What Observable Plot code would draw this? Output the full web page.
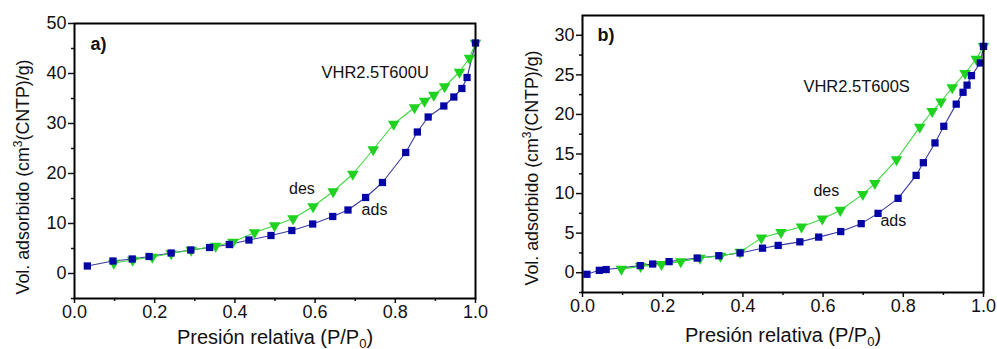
<!DOCTYPE html>
<html>
<head>
<meta charset="utf-8">
<script src="https://cdn.jsdelivr.net/npm/d3@7"></script>
<script src="https://cdn.jsdelivr.net/npm/@observablehq/plot@0.6"></script>
<style>
  html, body { margin: 0; padding: 0; background: #fff; }
  #wrap { position: relative; width: 997px; height: 349px; overflow: hidden; }
  #pa { position: absolute; left: 0; top: 0; }
  #pb { position: absolute; left: 500px; top: 0; }
</style>
</head>
<body>
<div id="wrap"><div id="pa"></div><div id="pb"></div></div>
<script>
// ---------- Panel a) VHR2.5T600U ----------
const aAdsP = [0.032,0.096,0.144,0.186,0.241,0.290,0.337,0.386,0.435,0.490,0.542,0.594,0.644,0.682,0.726,0.768,0.826,0.855,0.882,0.921,0.946,0.966,0.979,1.000];
const aAdsV = [1.5,2.5,2.9,3.4,4.1,4.7,5.2,5.8,6.7,7.6,8.6,9.9,11.4,12.7,15.2,18.2,24.2,28.3,31.3,33.5,35.3,37.0,39.2,46.1];
const aDesP = [0.098,0.145,0.194,0.241,0.291,0.352,0.395,0.449,0.499,0.545,0.595,0.645,0.694,0.745,0.796,0.848,0.873,0.896,0.923,0.960,0.985,1.000];
const aDesV = [2.1,2.7,3.3,4.0,4.7,5.5,6.3,8.2,9.6,11.0,13.4,16.4,19.9,24.8,29.9,33.2,34.5,35.7,37.4,40.3,43.1,46.1];

// ---------- Panel b) VHR2.5T600S ----------
const bAdsP = [0.011,0.042,0.059,0.144,0.175,0.216,0.286,0.340,0.393,0.449,0.488,0.542,0.589,0.644,0.695,0.737,0.787,0.832,0.850,0.879,0.901,0.932,0.949,0.959,0.970,0.992,1.000];
const bAdsV = [-0.2,0.3,0.4,0.9,1.1,1.4,1.85,2.15,2.5,3.1,3.45,3.9,4.5,5.2,6.2,7.5,9.4,12.3,13.9,16.4,18.5,21.3,22.8,23.7,24.9,26.5,28.6];
const bDesP = [0.097,0.145,0.197,0.245,0.293,0.344,0.393,0.446,0.495,0.546,0.598,0.643,0.699,0.729,0.783,0.841,0.872,0.894,0.922,0.954,0.982,1.000];
const bDesV = [0.45,0.8,1.05,1.4,1.85,2.1,2.6,4.4,5.1,5.8,6.8,7.9,9.9,11.3,14.3,18.4,20.4,21.6,23.4,25.2,27.0,28.6];

const xMajor = [0, 0.2, 0.4, 0.6, 0.8, 1.0];
const xMinor = [0.1, 0.3, 0.5, 0.7, 0.9];
const aYMajor = [0, 10, 20, 30, 40, 50];
const aYMinor = [-5, 5, 15, 25, 35, 45];
const bYMajor = [0, 5, 10, 15, 20, 25, 30];
const bYMinor = [-2.5, 2.5, 7.5, 12.5, 17.5, 22.5, 27.5];

const xLabel = "Presión relativa (P/P0)";
const yLabel = "Vol. adsorbido (cm3(CNTP)/g)";

const ADS_FILL = "#0303a6", ADS_LINE = "#3a3aa4";
const DES_FILL = "#1fd21f", DES_LINE = "#3fd83f";
const FONT = "'Liberation Sans', Arial, Helvetica, sans-serif";

function zipPts(P, V) { return P.map((p, i) => ({p, v: V[i]})); }

function panel(o) {
  const ads = zipPts(o.adsP, o.adsV), des = zipPts(o.desP, o.desV);
  const svg = Plot.plot({
    width: o.width, height: 349,
    marginLeft: o.ml, marginRight: o.mr, marginTop: o.mt, marginBottom: o.mb,
    style: {fontFamily: FONT, fontSize: "18px", color: "#111", background: "#fff", overflow: "visible"},
    x: {domain: [0, 1], label: null},
    y: {domain: o.yDomain, label: null},
    marks: [
      Plot.axisX(xMajor, {tickSize: 5, tickPadding: 2, tickFormat: d3.format(".1f"), strokeWidth: 1.5, fontSize: 18, label: null}),
      Plot.axisX(xMinor, {tickSize: 3, tickFormat: () => "", strokeWidth: 1.5, label: null}),
      Plot.axisY(o.yMajor, {tickSize: 6, tickPadding: 2, tickFormat: d3.format("d"), strokeWidth: 1.5, fontSize: 18, label: null}),
      Plot.axisY(o.yMinor, {tickSize: 3, tickFormat: () => "", strokeWidth: 1.5, label: null}),
      Plot.line(ads, {x: "p", y: "v", stroke: ADS_LINE, strokeWidth: 1.1}),
      Plot.line(des, {x: "p", y: "v", stroke: DES_LINE, strokeWidth: 1.1}),
      Plot.dot(des, {x: "p", y: "v", symbol: "triangle", rotate: 180, r: 4.3, fill: DES_FILL, stroke: "none"}),
      Plot.dot(ads, {x: "p", y: "v", symbol: "square", r: 4.1, fill: ADS_FILL, stroke: "none"}),
      Plot.frame({stroke: "#000", strokeWidth: 2}),
      Plot.text([o.tag], {frameAnchor: "top-left", dx: o.tagDx, dy: o.tagDy, text: d => d, fontWeight: "bold", fontSize: 18, textAnchor: "start", fill: "#111"}),
      Plot.text([o.sample], {x: o.sampleX, y: o.sampleY, text: d => d, fontSize: 16.5, textAnchor: "start", fill: "#111"}),
      Plot.text(["des"], {x: o.desX, y: o.desY, text: d => d, fontSize: 16, textAnchor: "start", fill: "#111"}),
      Plot.text(["ads"], {x: o.adsX, y: o.adsY, text: d => d, fontSize: 16, textAnchor: "start", fill: "#111"}),
      Plot.text([xLabel], {frameAnchor: "bottom", dy: o.xlDy, text: d => d, fontSize: 20, textAnchor: "middle", fill: "#111"}),
      Plot.text([yLabel], {frameAnchor: "left", dx: o.ylDx, dy: o.ylDy, rotate: -90, text: d => d, fontSize: 17.8, textAnchor: "middle", lineAnchor: "middle", fill: "#111"})
    ]
  });
  // rich text for super/subscripts
  d3.select(svg).selectAll("text").each(function() {
    const t = d3.select(this);
    if (this.textContent === xLabel) {
      t.text("");
      t.append("tspan").text("Presión relativa (P/P");
      t.append("tspan").attr("font-size", "13px").attr("dy", "4").text("0");
      t.append("tspan").attr("dy", "-4").text(")");
    } else if (this.textContent === yLabel) {
      t.text("");
      t.append("tspan").text("Vol. adsorbido (cm");
      t.append("tspan").attr("font-size", "12px").attr("dy", "-7").text("3");
      t.append("tspan").attr("dy", "7").text("(CNTP)/g)");
    }
  });
  return svg;
}

document.getElementById("pa").append(panel({
  width: 500, ml: 74, mr: 25, mt: 23, mb: 51,
  yDomain: [-5, 50], yMajor: aYMajor, yMinor: aYMinor,
  adsP: aAdsP, adsV: aAdsV, desP: aDesP, desV: aDesV,
  tag: "a)", tagDx: 16, tagDy: 14,
  sample: "VHR2.5T600U", sampleX: 0.616, sampleY: 40.2,
  desX: 0.535, desY: 17.0, adsX: 0.716, adsY: 12.8,
  xlDy: 45, ylDx: -51, ylDy: 16
}));

document.getElementById("pb").append(panel({
  width: 497, ml: 82, mr: 14, mt: 15, mb: 57,
  yDomain: [-2.5, 32.5], yMajor: bYMajor, yMinor: bYMinor,
  adsP: bAdsP, adsV: bAdsV, desP: bDesP, desV: bDesV,
  tag: "b)", tagDx: 15, tagDy: 13,
  sample: "VHR2.5T600S", sampleX: 0.551, sampleY: 23.55,
  desX: 0.576, desY: 10.3, adsX: 0.743, adsY: 6.6,
  xlDy: 49, ylDx: -50, ylDy: 14
}));
</script>
</body>
</html>
